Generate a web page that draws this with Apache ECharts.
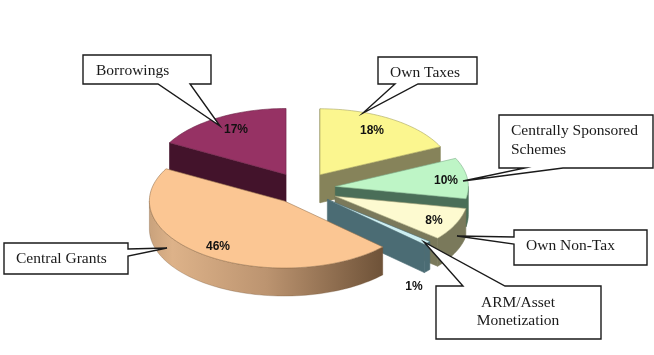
<!DOCTYPE html>
<html>
<head>
<meta charset="utf-8">
<title>Revenue sources</title>
<style>
html,body{margin:0;padding:0;background:#fff}
#main{width:654px;height:355px}
</style>
<script src="https://cdn.jsdelivr.net/npm/echarts@6/dist/echarts.min.js"></script>
</head>
<body>
<div id="main"></div>
<script>
// clockwise from the slice that ends at 12 o'clock, also the paint order back to front
var categories = ['Borrowings', 'Own Taxes', 'Centrally Sponsored\nSchemes', 'Own Non-Tax', 'ARM/Asset\nMonetization', 'Central Grants'];
var values = [17, 18, 10, 8, 1, 46];

// look of the pie
var center = [302.6, 188.5];
var rx = 133, ry = 66, depth = 28;
var explode = [32.5, 32.5, 33, 36, 33, 31];
var sliceScale = [1, 1, 1, 1, 1, 1.015]; // front slice sits a bit nearer
var topColors = ['#963264', '#FBF68F', '#BEF5C6', '#FDFAD0', '#CDEFF2', '#FBC693'];
var sideColors = ['#43132B', '#86835A', '#4A6E58', '#7A795B', '#4B6C74', '#C9A27C'];
var edgeColors = ['#6B2347', '#A8A560', '#7FAF8C', '#A8A67E', '#4B6C74', '#9A7650'];
var pctPos = [[236, 130], [372, 131], [446, 181], [434, 221], [414, 287], [218, 247]];

// callout boxes: box x0,y0,x1,y1, tail points, text anchor
var callouts = [
  {box: [83, 55, 211, 84], tail: [[158, 84], [220, 126], [190, 84]], text: [96, 71], align: 'left'},
  {box: [378, 57, 477, 84], tail: [[395, 84], [363, 113], [418, 84]], text: [390, 73], align: 'left'},
  {box: [499, 115, 653, 168], tail: [[525, 168], [463, 181], [563, 168]], text: [511, 140.5], align: 'left'},
  {box: [514, 230, 647, 265], tail: [[514, 237], [457, 236], [514, 244]], text: [526, 246], align: 'left'},
  {box: [436, 286, 601, 339], tail: [[463, 286], [424, 242], [505, 286]], text: [518, 312], align: 'center'},
  {box: [4, 243, 128, 274], tail: [[128, 249], [167, 248], [128, 256]], text: [16, 259], align: 'left'}
];

var total = values.reduce(function (a, b) { return a + b; }, 0);
var firstAngle = 360 - values[0] / total * 360;

function pt(ox, oy, deg, dy, s) {
  var a = deg * Math.PI / 180;
  return [ox + rx * s * Math.sin(a), oy - ry * s * Math.cos(a) + (dy || 0)];
}

function arc(ox, oy, from, to, dy, s) {
  var pts = [];
  var n = Math.max(2, Math.ceil(Math.abs(to - from) / 2));
  for (var k = 0; k <= n; k++) pts.push(pt(ox, oy, from + (to - from) * k / n, dy, s));
  return pts;
}

function face(points, fill, stroke) {
  return {
    type: 'polygon',
    shape: {points: points},
    style: {fill: fill, stroke: stroke || fill, lineWidth: 0.6, lineJoin: 'round'}
  };
}

function renderSlice(params, api) {
  var i = params.dataIndex;
  var before = 0;
  for (var k = 0; k < i; k++) before += values[k];
  var start = firstAngle + before / total * 360;
  var end = start + api.value(0) / total * 360;
  var mid = (start + end) / 2 * Math.PI / 180;
  var ox = center[0] + explode[i] * Math.sin(mid);
  var oy = center[1] - explode[i] * 0.5 * Math.cos(mid);
  var s = sliceScale[i];
  var kids = [];
  var side = sideColors[i];
  var apex = [ox, oy], apexLow = [ox, oy + depth];

  // cut faces, only the ones turned to the viewer
  [[start, -90], [end, 90]].forEach(function (c) {
    var normal = (c[0] + c[1]) * Math.PI / 180;
    if (Math.cos(normal) < 0) {
      kids.push(face([apex, pt(ox, oy, c[0], 0, s), pt(ox, oy, c[0], depth, s), apexLow], side));
    }
  });

  // outer wall for the part of the rim facing down
  for (var turn = 0; turn <= 360; turn += 360) {
    var a0 = Math.max(start, 90 + turn), a1 = Math.min(end, 270 + turn);
    if (a1 > a0) {
      var wallFill = side;
      if (categories[i] === 'Central Grants') {
        wallFill = {
          type: 'linear', x: 0, y: 0, x2: 1, y2: 0,
          colorStops: [
            {offset: 0, color: '#C9A27C'}, {offset: 0.1, color: '#DDB289'},
            {offset: 0.5, color: '#BC9470'}, {offset: 1, color: '#6E5238'}
          ]
        };
      }
      var upper = arc(ox, oy, a0, a1, 0, s);
      var lower = arc(ox, oy, a1, a0, depth, s);
      kids.push(face(upper.concat(lower), wallFill, categories[i] === 'Central Grants' ? 'rgba(110,80,50,0.5)' : side));
    }
  }

  // top
  kids.push(face([apex].concat(arc(ox, oy, start, end, 0, s)), topColors[i], edgeColors[i]));

  return {type: 'group', children: kids};
}

function renderPct(params, api) {
  var i = params.dataIndex;
  return {
    type: 'text',
    style: {
      text: api.value(0) + '%',
      x: pctPos[i][0], y: pctPos[i][1],
      align: 'center', verticalAlign: 'middle',
      font: 'bold 12px "Liberation Sans"',
      fill: '#111'
    }
  };
}

var graphics = [];
callouts.forEach(function (c, i) {
  var b = c.box;
  var pts = [[b[0], b[1]], [b[2], b[1]], [b[2], b[3]], [b[0], b[3]]];
  // the tail is spliced into the side of the box it leaves from
  var t = c.tail;
  if (t[0][1] === b[3]) {
    pts = [[b[0], b[1]], [b[2], b[1]], [b[2], b[3]], t[2], t[1], t[0], [b[0], b[3]]];
  } else if (t[0][0] === b[2]) {
    pts = [[b[0], b[1]], [b[2], b[1]], t[0], t[1], t[2], [b[2], b[3]], [b[0], b[3]]];
  } else if (t[0][0] === b[0]) {
    pts = [[b[0], b[1]], [b[2], b[1]], [b[2], b[3]], [b[0], b[3]], t[2], t[1], t[0]];
  } else if (t[0][1] === b[1]) {
    pts = [[b[0], b[1]], t[0], t[1], t[2], [b[2], b[1]], [b[2], b[3]], [b[0], b[3]]];
  }
  graphics.push({
    type: 'polygon', z: 10,
    shape: {points: pts},
    style: {fill: '#fff', stroke: '#1a1a1a', lineWidth: 1.4, lineJoin: 'miter'}
  });
  graphics.push({
    type: 'text', z: 11, x: c.text[0], y: c.text[1],
    style: {
      text: categories[i],
      align: c.align, verticalAlign: 'middle',
      font: '15.5px "Liberation Serif"',
      lineHeight: 18.5,
      fill: '#1a1a1a'
    }
  });
});

var chart = echarts.init(document.getElementById('main'), null, {renderer: 'canvas'});
chart.setOption({
  animation: false,
  backgroundColor: '#fff',
  graphic: graphics,
  series: [
    {
      type: 'custom', coordinateSystem: 'none', z: 2, silent: true,
      renderItem: renderSlice,
      data: values.map(function (v) { return [v]; })
    },
    {
      type: 'custom', coordinateSystem: 'none', z: 20, silent: true,
      renderItem: renderPct,
      data: values.map(function (v) { return [v]; })
    }
  ]
});
</script>
</body>
</html>
